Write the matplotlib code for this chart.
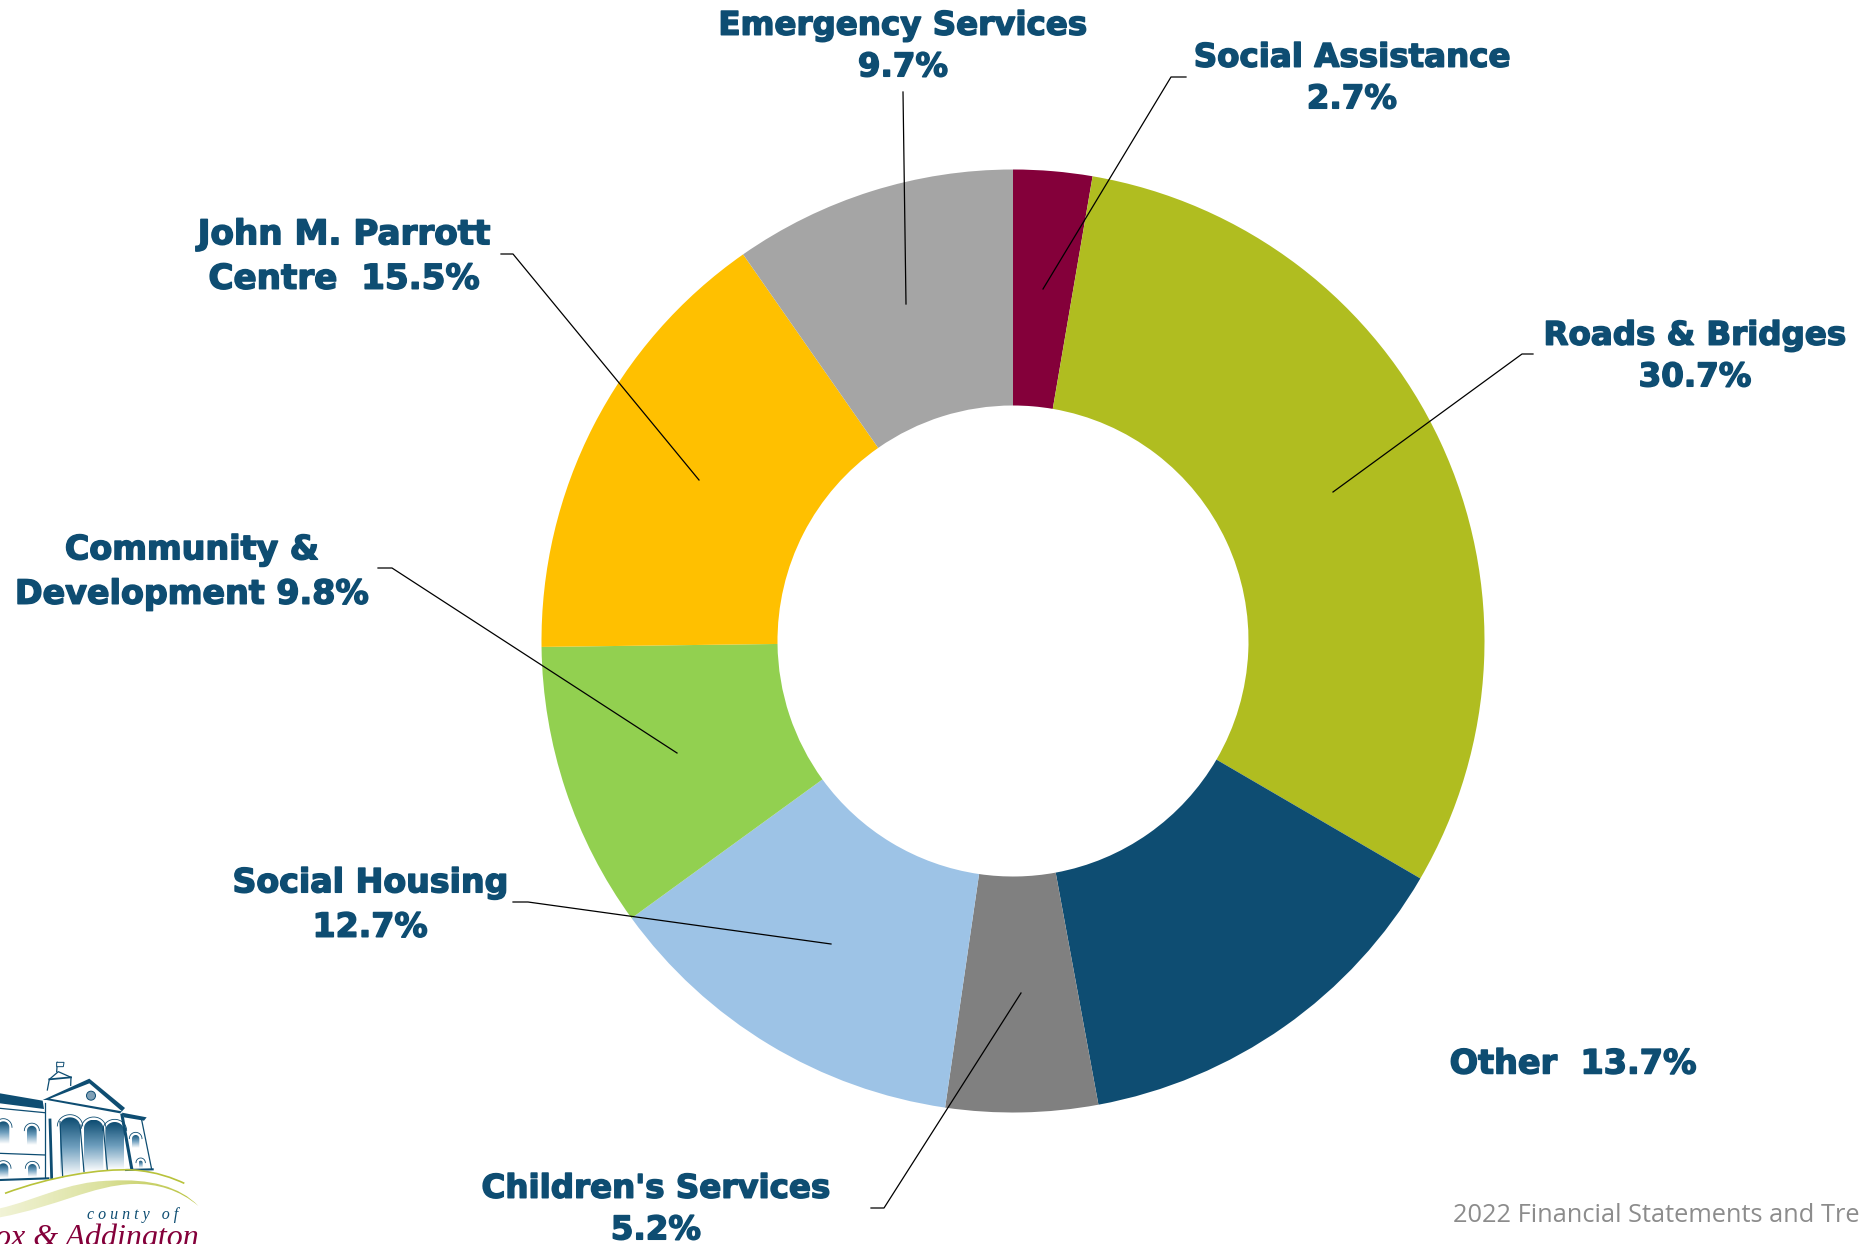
import numpy as np
import matplotlib
matplotlib.use("Agg")
import matplotlib.pyplot as plt
import matplotlib.patheffects as pe
from matplotlib.colors import LinearSegmentedColormap
from matplotlib.patches import Polygon, Circle, PathPatch
from matplotlib.path import Path

W, H = 1863, 1244

valores = [2.7, 30.7, 13.7, 5.2, 12.7, 9.8, 15.5, 9.7]
colores = ["#84003A", "#B0BD20", "#0E4D72", "#808080", "#9DC3E6", "#92D050", "#FFC000", "#A5A5A5"]

azul = "#0E4D72"

etiquetas = ["Emergency Services\n9.7%", "Social Assistance\n2.7%", "Roads & Bridges\n30.7%",
             "John M. Parrott\nCentre  15.5%", "Community &\nDevelopment 9.8%",
             "Social Housing\n12.7%", "Other  13.7%", "Children's Services\n5.2%"]

# x, y del centro en pixeles y tamano de letra de cada etiqueta
pos_etiquetas = [(903, 47, 23.4), (1352, 79, 23.4), (1695, 357, 23.4), (344, 257, 24.6),
                 (192, 572, 24), (370, 905, 23.9), (1573, 1064, 24.1), (656, 1210, 23.4)]

# lineas guia en pixeles
guias = [
    [(903, 92), (906, 304)],
    [(1186, 77), (1171, 77), (1043, 289)],
    [(1533, 354), (1522, 354), (1333, 492)],
    [(501, 254), (513, 254), (699, 480)],
    [(378, 568), (392, 568), (677, 753)],
    [(513, 902), (528, 902), (831, 944)],
    [(871, 1208), (884, 1208), (1021, 993)],
]


def py(y):
    return H - y


fig = plt.figure(figsize=(W / 100, H / 100), dpi=100)
ax = fig.add_axes([0, 0, 1, 1])

ax.pie(valores, colors=colores, startangle=90, counterclock=False,
       center=(1013, py(641)), radius=471.5,
       wedgeprops=dict(width=236, linewidth=0))
ax.set_aspect("equal")
ax.axis("off")

for guia in guias:
    xs = [p[0] for p in guia]
    ys = [py(p[1]) for p in guia]
    ax.plot(xs, ys, color="black", linewidth=0.9, zorder=5)

for texto, (x, y, tam) in zip(etiquetas, pos_etiquetas):
    ax.text(x, py(y), texto, color=azul, fontsize=tam, fontweight="bold",
            family="DejaVu Sans", ha="center", va="center", linespacing=1.44, zorder=6,
            path_effects=[pe.withStroke(linewidth=1.1, foreground=azul)])

ax.text(1453, py(1215), "2022 Financial Statements and Tre", color="#8C8C8C", fontsize=18.3,
        family="Open Sans", ha="left", va="center")


# logo, coordenadas del recorte ampliado x3
def z(x, y):
    return x / 3, py(1040 + y / 3)


def poli(puntos, **kw):
    ax.add_patch(Polygon([z(*p) for p in puntos], closed=True, **kw))


def linea(puntos, lw=0.9, color=azul):
    ax.plot(*zip(*[z(*p) for p in puntos]), color=color, linewidth=lw, zorder=7)


def curva(puntos):
    # puntos: inicio y luego tripletas de bezier
    codigos = [Path.MOVETO] + [Path.CURVE4] * (len(puntos) - 1)
    return Path([z(*p) for p in puntos], codigos)


mapa_arco = LinearSegmentedColormap.from_list("arco", ["#FFFFFF", "#6F9FBE", azul])
mapa_curva = LinearSegmentedColormap.from_list("curva", ["#F1F3D6", "#DCE2A0", "#B8C23A"])


def ventana(x0, x1, base, arco):
    t = np.linspace(np.pi, 0, 20)
    cx, rx = (x0 + x1) / 2, (x1 - x0) / 2
    alto = min(rx, 26)
    pts = [(x0, base)] + [(cx + rx * np.cos(a), arco - alto * np.sin(a)) for a in t] + [(x1, base)]
    clip = Polygon([z(*q) for q in pts], closed=True, facecolor="none", edgecolor="none", zorder=6)
    ax.add_patch(clip)
    a, b = z(x0, base), z(x1, arco - alto)
    im = ax.imshow(np.linspace(0, 1, 64).reshape(-1, 1), extent=[a[0], b[0], a[1], b[1]],
                   cmap=mapa_arco, origin="lower", aspect="auto", zorder=6)
    im.set_clip_path(clip)
    # moldura del arco
    t2 = np.linspace(np.pi, 0, 20)
    linea([(cx + (rx + 8) * np.cos(a2), arco - (alto + 8) * np.sin(a2)) for a2 in t2], 0.6)


# techos y fachada
poli([(0, 160), (128, 182), (132, 207), (0, 190)], facecolor=azul, zorder=7)
poli([(128, 180), (268, 116), (375, 204), (366, 214), (268, 130), (150, 176), (366, 214), (360, 220), (140, 180)],
     facecolor=azul, zorder=7)
poli([(366, 218), (440, 232), (432, 242), (372, 232)], facecolor=azul, zorder=7)
linea([(142, 150), (148, 118), (175, 95), (213, 112), (212, 136)])
linea([(148, 118), (213, 112)], 1.3)
linea([(134, 190), (134, 410)])
linea([(0, 205), (134, 218)])
linea([(0, 340), (136, 345)])
linea([(0, 420), (145, 415)], 1.5)
linea([(150, 240), (155, 415)], 2)
linea([(180, 245), (188, 410)])
linea([(240, 255), (252, 395)])
linea([(310, 262), (322, 390)])
linea([(366, 225), (395, 385)], 2.2)
linea([(425, 240), (455, 388)])
linea([(378, 390), (458, 388)], 1.5)
linea([(172, 67), (170, 95)])
poli([(170, 67), (192, 67), (190, 80), (170, 80)], facecolor="white", edgecolor=azul, linewidth=0.7, zorder=7)
ax.add_patch(Circle(z(273, 167), 4.5, facecolor="#7F9FB5", edgecolor=azul, linewidth=0.7, zorder=7))

# ventanas y arcos
for x0, x1, base, arco in [(180, 240, 410, 258), (252, 310, 395, 265), (316, 372, 390, 272),
                           (-8, 28, 312, 262), (81, 110, 315, 272), (396, 418, 325, 296),
                           (-5, 25, 415, 385), (84, 110, 412, 385), (416, 428, 385, 368)]:
    ventana(x0, x1, base, arco)

# curvas
borde = curva([(0, 505), (110, 480), (200, 425), (330, 422),
               (450, 415), (540, 440), (595, 498),
               (540, 450), (470, 430), (400, 432),
               (280, 435), (170, 500), (0, 532)])
forma = PathPatch(borde, facecolor="none", edgecolor="none", zorder=6)
ax.add_patch(forma)
im = ax.imshow(np.linspace(0, 1, 128).reshape(1, -1), extent=[0, 200, py(1220), py(1170)],
               cmap=mapa_curva, aspect="auto", zorder=6)
im.set_clip_path(forma)
fina = curva([(15, 460), (150, 410), (300, 385), (400, 390), (470, 395), (520, 415), (553, 430)])
ax.add_patch(PathPatch(fina, facecolor="none", edgecolor="#B8C23A", linewidth=1.2, zorder=7))

ax.set_xlim(0, W)
ax.set_ylim(0, H)

ax.text(87, py(1215), "c o u n t y   o f", color=azul, fontsize=11.5, style="italic",
        family="Liberation Serif", ha="left", va="center", zorder=8)
ax.text(199, py(1238), "ox & Addington", color="#84003A", fontsize=23, style="italic",
        family="Liberation Serif", ha="right", va="center", zorder=8)

fig.savefig("out.png", dpi=100)
